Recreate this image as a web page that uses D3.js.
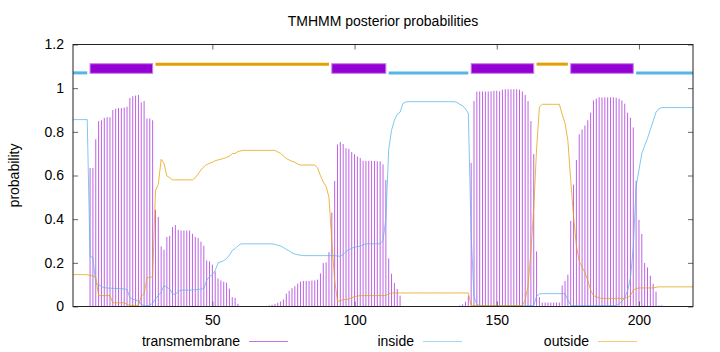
<!DOCTYPE html>
<html>
<head>
<meta charset="utf-8">
<script src="https://cdn.jsdelivr.net/npm/d3@7"></script>
<style>
  body { margin: 0; background: #fff; }
  svg text { font-family: "Liberation Sans", Arial, sans-serif; fill: #000; }
</style>
</head>
<body>
<div id="chart"></div>
<script>
// Posterior probabilities per residue (1..219)
const transmembrane = [
  0, 0, 0, 0, 0, 0, 0.634, 0.634, 0.766, 0.849,
  0.853, 0.864, 0.867, 0.867, 0.900, 0.906, 0.909, 0.909, 0.911, 0.915,
  0.955, 0.963, 0.966, 0.969, 0.935, 0.941, 0.861, 0.861, 0.853, 0.443,
  0.410, 0.275, 0.260, 0.318, 0.324, 0.364, 0.373, 0.351, 0.348, 0.348,
  0.348, 0.348, 0.333, 0.318, 0.313, 0.297, 0.278, 0.211, 0.207, 0.192,
  0.161, 0.128, 0.119, 0.113, 0.109, 0.082, 0.043, 0.040, 0.012, 0,
  0, 0, 0, 0, 0, 0, 0, 0, 0.002, 0.005,
  0.008, 0.012, 0.017, 0.023, 0.032, 0.059, 0.072, 0.084, 0.093, 0.105,
  0.114, 0.117, 0.117, 0.117, 0.119, 0.119, 0.123, 0.152, 0.199, 0.202,
  0.249, 0.430, 0.575, 0.742, 0.754, 0.744, 0.725, 0.722, 0.707, 0.698,
  0.687, 0.680, 0.667, 0.667, 0.667, 0.667, 0.667, 0.665, 0.665, 0.651,
  0.579, 0.220, 0.150, 0.108, 0.080, 0.050, 0, 0, 0, 0,
  0, 0, 0, 0, 0, 0, 0, 0, 0, 0,
  0, 0, 0, 0, 0, 0, 0.005, 0.010, 0.022, 0.050,
  0.658, 0.941, 0.984, 0.985, 0.985, 0.985, 0.985, 0.986, 0.988, 0.988,
  0.986, 0.993, 0.995, 0.995, 0.995, 0.995, 0.995, 0.993, 0.985, 0.969,
  0.941, 0.849, 0.698, 0.252, 0.043, 0.018, 0.018, 0.018, 0.018, 0.018,
  0.018, 0.018, 0.096, 0.117, 0.146, 0.392, 0.558, 0.671, 0.789, 0.811,
  0.829, 0.853, 0.888, 0.944, 0.952, 0.958, 0.958, 0.958, 0.958, 0.958,
  0.958, 0.956, 0.952, 0.944, 0.929, 0.887, 0.865, 0.820, 0.576, 0.397,
  0.332, 0.199, 0.179, 0.141, 0.104, 0.068, 0.005, 0.005, 0, 0,
  0, 0, 0, 0, 0, 0, 0, 0, 0
];
const inside = [
  0.856, 0.856, 0.856, 0.856, 0.856, 0.856, 0.230, 0.225, 0.105, 0.100,
  0.092, 0.086, 0.085, 0.084, 0.083, 0.083, 0.082, 0.082, 0.080, 0.078,
  0.040, 0.033, 0.030, 0.025, 0.012, 0.003, 0.003, 0.006, 0.015, 0.035,
  0.050, 0.065, 0.096, 0.088, 0.080, 0.058, 0.055, 0.070, 0.075, 0.075,
  0.075, 0.075, 0.076, 0.077, 0.078, 0.080, 0.082, 0.120, 0.137, 0.145,
  0.165, 0.200, 0.205, 0.210, 0.220, 0.235, 0.257, 0.265, 0.278, 0.286,
  0.287, 0.287, 0.287, 0.287, 0.287, 0.287, 0.287, 0.287, 0.287, 0.287,
  0.287, 0.285, 0.280, 0.277, 0.270, 0.262, 0.255, 0.246, 0.240, 0.237,
  0.235, 0.233, 0.233, 0.233, 0.233, 0.233, 0.233, 0.233, 0.233, 0.233,
  0.233, 0.233, 0.233, 0.231, 0.230, 0.238, 0.252, 0.260, 0.267, 0.272,
  0.274, 0.276, 0.283, 0.287, 0.287, 0.287, 0.287, 0.287, 0.287, 0.302,
  0.400, 0.720, 0.807, 0.853, 0.880, 0.890, 0.930, 0.937, 0.938, 0.938,
  0.938, 0.938, 0.938, 0.938, 0.938, 0.938, 0.938, 0.938, 0.938, 0.938,
  0.938, 0.938, 0.938, 0.938, 0.938, 0.935, 0.926, 0.920, 0.905, 0.885,
  0.330, 0.045, 0.010, 0.004, 0.004, 0.004, 0.004, 0.004, 0.004, 0.004,
  0.004, 0.004, 0.004, 0.004, 0.004, 0.004, 0.004, 0.004, 0.004, 0.004,
  0.004, 0.004, 0.004, 0.047, 0.058, 0.059, 0.059, 0.059, 0.059, 0.059,
  0.059, 0.059, 0.059, 0.059, 0.030, 0.005, 0.004, 0.004, 0.004, 0.004,
  0.004, 0.004, 0.004, 0.004, 0.004, 0.004, 0.004, 0.004, 0.004, 0.004,
  0.004, 0.004, 0.012, 0.025, 0.040, 0.072, 0.130, 0.270, 0.550, 0.625,
  0.700, 0.737, 0.770, 0.810, 0.850, 0.890, 0.906, 0.911, 0.911, 0.911,
  0.911, 0.911, 0.911, 0.911, 0.911, 0.911, 0.911, 0.911, 0.911
];
const outside = [
  0.146, 0.146, 0.146, 0.146, 0.146, 0.145, 0.143, 0.140, 0.135, 0.050,
  0.050, 0.050, 0.050, 0.050, 0.017, 0.017, 0.017, 0.017, 0.017, 0.010,
  0.005, 0.005, 0.005, 0.005, 0.047, 0.058, 0.130, 0.135, 0.135, 0.530,
  0.560, 0.674, 0.655, 0.598, 0.590, 0.580, 0.580, 0.580, 0.580, 0.580,
  0.580, 0.580, 0.580, 0.590, 0.607, 0.625, 0.640, 0.650, 0.656, 0.660,
  0.668, 0.671, 0.675, 0.678, 0.683, 0.689, 0.700, 0.701, 0.710, 0.713,
  0.715, 0.715, 0.715, 0.715, 0.715, 0.715, 0.715, 0.715, 0.715, 0.715,
  0.715, 0.715, 0.708, 0.701, 0.690, 0.678, 0.671, 0.665, 0.660, 0.653,
  0.648, 0.648, 0.648, 0.648, 0.648, 0.648, 0.635, 0.600, 0.570, 0.550,
  0.500, 0.300, 0.120, 0.025, 0.025, 0.032, 0.032, 0.035, 0.040, 0.045,
  0.048, 0.050, 0.050, 0.050, 0.050, 0.050, 0.050, 0.050, 0.050, 0.050,
  0.050, 0.058, 0.062, 0.062, 0.062, 0.062, 0.062, 0.062, 0.062, 0.062,
  0.062, 0.062, 0.062, 0.062, 0.062, 0.062, 0.062, 0.062, 0.062, 0.062,
  0.062, 0.062, 0.062, 0.062, 0.062, 0.062, 0.062, 0.062, 0.062, 0.062,
  0.005, 0.004, 0.004, 0.004, 0.004, 0.004, 0.004, 0.004, 0.004, 0.004,
  0.004, 0.004, 0.004, 0.004, 0.004, 0.004, 0.004, 0.004, 0.004, 0.030,
  0.093, 0.250, 0.450, 0.720, 0.914, 0.926, 0.926, 0.926, 0.926, 0.926,
  0.926, 0.926, 0.880, 0.840, 0.760, 0.580, 0.410, 0.280, 0.207, 0.180,
  0.155, 0.120, 0.075, 0.050, 0.045, 0.040, 0.037, 0.037, 0.037, 0.037,
  0.037, 0.037, 0.037, 0.037, 0.038, 0.042, 0.050, 0.075, 0.082, 0.085,
  0.085, 0.085, 0.085, 0.085, 0.085, 0.088, 0.090, 0.090, 0.090, 0.090,
  0.090, 0.090, 0.090, 0.090, 0.090, 0.090, 0.090, 0.090, 0.090
];

// Predicted topology segments shown above the curves
const segStart = [1, 7, 30, 92, 112, 141, 164, 176, 199];
const segEnd   = [6, 29, 91, 111, 140, 163, 175, 198, 219];
const segType  = ['inside', 'TMhelix', 'outside', 'TMhelix', 'inside', 'TMhelix', 'outside', 'TMhelix', 'inside'];

const xTicks = [50, 100, 150, 200];
const yTicks = [0, 0.2, 0.4, 0.6, 0.8, 1, 1.2];

const colTM = '#9400d3', colIn = '#56b4e9', colOut = '#e69f00';

const W = 720, H = 352;
const plot = { left: 73, right: 693, top: 44.5, bottom: 306.5 };

const svg = d3.select('#chart').append('svg')
    .attr('width', W).attr('height', H);

const x = d3.scaleLinear().domain([1, transmembrane.length]).range([plot.left, plot.right]);
const y = d3.scaleLinear().domain([0, 1.2]).range([plot.bottom, plot.top]);

// rows: residue number + three probabilities
const rows = transmembrane.map((t, i) => ({ pos: i + 1, tm: t, inn: inside[i], out: outside[i] }));

// Title
svg.append('text')
    .attr('x', (plot.left + plot.right) / 2).attr('y', 26)
    .attr('text-anchor', 'middle').attr('font-size', 14)
    .text('TMHMM posterior probabilities');

// Axis label
svg.append('text')
    .attr('transform', `translate(19, ${(plot.top + plot.bottom) / 2}) rotate(-90)`)
    .attr('text-anchor', 'middle').attr('font-size', 14)
    .text('probability');

// Transmembrane impulses
svg.append('g').selectAll('line')
    .data(rows.filter(d => d.tm > 0))
    .enter().append('line')
    .attr('x1', d => x(d.pos)).attr('x2', d => x(d.pos))
    .attr('y1', y(0)).attr('y2', d => y(d.tm))
    .attr('stroke', colTM).attr('stroke-width', 1)
    .attr('stroke-opacity', 0.62);

// inside / outside curves
const lineIn = d3.line().x(d => x(d.pos)).y(d => y(d.inn));
const lineOut = d3.line().x(d => x(d.pos)).y(d => y(d.out));
svg.append('path').datum(rows).attr('d', lineIn)
    .attr('fill', 'none').attr('stroke', colIn).attr('stroke-width', 1)
    .attr('stroke-opacity', 0.75);
svg.append('path').datum(rows).attr('d', lineOut)
    .attr('fill', 'none').attr('stroke', colOut).attr('stroke-width', 1)
    .attr('stroke-opacity', 0.75);

// Topology bars on top
const segs = segStart.map((s, i) => ({ s: s, e: segEnd[i], type: segType[i] }));
segs.forEach(d => {
    if (d.type === 'TMhelix') {
        svg.append('rect')
            .attr('x', x(d.s)).attr('width', x(d.e) - x(d.s))
            .attr('y', y(1.112)).attr('height', y(1.068) - y(1.112))
            .attr('fill', colTM).attr('stroke', '#c77ee8').attr('stroke-width', 1);
    } else {
        const lv = d.type === 'inside' ? 1.07 : 1.11;
        svg.append('line')
            .attr('x1', x(d.s)).attr('x2', x(d.e))
            .attr('y1', y(lv)).attr('y2', y(lv))
            .attr('stroke', d.type === 'inside' ? colIn : colOut)
            .attr('stroke-width', 3);
    }
});

// Axes (gnuplot style: inward ticks, mirrored)
const fmt = d3.format('~g');
const axL = svg.append('g').attr('transform', `translate(${plot.left},0)`)
    .call(d3.axisLeft(y).tickValues(yTicks).tickSize(-5).tickPadding(9).tickFormat(fmt));
const axR = svg.append('g').attr('transform', `translate(${plot.right},0)`)
    .call(d3.axisRight(y).tickValues(yTicks).tickSize(-5).tickFormat(''));
const axB = svg.append('g').attr('transform', `translate(0,${plot.bottom})`)
    .call(d3.axisBottom(x).tickValues(xTicks).tickSize(-5).tickPadding(9));
const axT = svg.append('g').attr('transform', `translate(0,${plot.top})`)
    .call(d3.axisTop(x).tickValues(xTicks).tickSize(-5).tickFormat(''));
[axL, axR, axB, axT].forEach(g => {
    g.select('.domain').remove();
    g.selectAll('.tick line').attr('stroke', '#666');
    g.selectAll('text').attr('font-size', 14).attr('font-family', '"Liberation Sans", Arial, sans-serif');
});

// Border
svg.append('rect')
    .attr('x', plot.left).attr('y', plot.top)
    .attr('width', plot.right - plot.left).attr('height', plot.bottom - plot.top)
    .attr('fill', 'none').attr('stroke', '#222').attr('stroke-width', 1);

// Legend
const legendNames = ['transmembrane', 'inside', 'outside'];
const legendX = [240, 414, 589];
const legendCol = [colTM, colIn, colOut];
legendNames.forEach((n, i) => {
    svg.append('text')
        .attr('x', legendX[i]).attr('y', 346)
        .attr('text-anchor', 'end').attr('font-size', 14)
        .text(n);
    svg.append('line')
        .attr('x1', legendX[i] + 9).attr('x2', legendX[i] + 48)
        .attr('y1', 341.5).attr('y2', 341.5)
        .attr('stroke', legendCol[i]).attr('stroke-width', 1)
        .attr('stroke-opacity', 0.55);
});
</script>
</body>
</html>
